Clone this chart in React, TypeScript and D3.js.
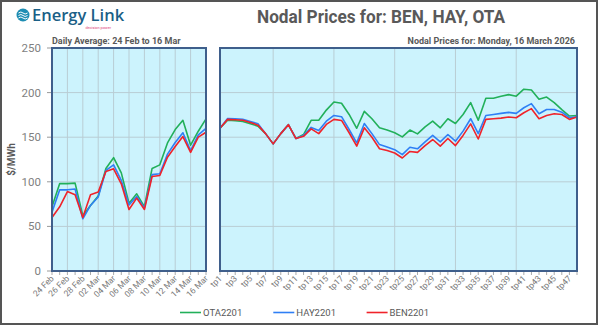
import React from "react";
import * as d3 from "d3";

const dailyLabels = ["24 Feb","25 Feb","26 Feb","27 Feb","28 Feb","01 Mar","02 Mar","03 Mar","04 Mar","05 Mar","06 Mar","07 Mar","08 Mar","09 Mar","10 Mar","11 Mar","12 Mar","13 Mar","14 Mar","15 Mar","16 Mar"];
const dailyOTA = [72,98,98,98.5,62,73.5,84,115,127,110,76,86.5,72,115,119,143.6,158.6,169,141,156.7,170.5];
const dailyHAY = [66,91,91,92,58.6,73.5,83,112.7,119,101.5,74,83.6,70.5,108,109,131,144,155,135,152.6,160];
const dailyBEN = [60,72,89,85.5,60,85.5,88.5,111.5,114.5,97.7,69,81.7,69,106,107,127.6,139.5,150.7,133,150,155.6];

const tpLabels = Array.from({ length: 48 }, (_, i) => `tp${i + 1}`);
const tpOTA = [160,169,168.4,167.7,165,162.4,154,142.5,154,164,148.5,153,169,169,180.4,189.5,188,175.5,160,179,170.7,160.5,158,155,150.4,158,153.7,161.6,168,160.5,170.7,165.4,175.5,188.7,169,193.6,193.6,196,197.7,196,203.8,203,192.5,195,188.7,181,173.7,174.4];
const tpHAY = [160,171,170.7,170,167.7,165,154,142.5,154,164,148.5,152,161,157.5,168,174.4,173,158.6,143.6,165.4,154,141.7,139,136,130.4,138.7,137,144.7,152,144.7,153,145.5,156.8,170.7,154,174.4,175.5,176.7,177.8,176.7,183,187.6,176.3,181,181,178,171.8,173];
const tpBEN = [160,170,169.5,169,166.5,163.5,154,142.5,154,164,148.5,151,159.4,154,164.3,170,168.8,155,140,160.5,150,137,135,132.3,126.7,134,133,140.6,147.4,140,148.5,140.6,152,165,148,170,170.7,171.4,172.6,171.8,177.4,182,170.7,174.4,176.3,175.5,170,172.6];

const yTicks = [0, 50, 100, 150, 200, 250];
const seriesNames = ["OTA2201", "HAY2201", "BEN2201"];
const seriesColors = ["#22b05a", "#2f7ff5", "#f0232a"];

const FONT = "Roboto, 'Open Sans', sans-serif";

export default function App() {
  const W = 600, H = 326;
  const top = 48, bottom = 271;
  const y = d3.scaleLinear().domain([0, 250]).range([bottom, top]);
  const xL = d3.scaleLinear().domain([0, dailyLabels.length - 1]).range([52, 206]);
  const xR = d3.scaleLinear().domain([0, tpLabels.length - 1]).range([220, 577]);

  const lineL = d3.line<number>().x((_, i) => xL(i)).y((d) => y(d));
  const lineR = d3.line<number>().x((_, i) => xR(i)).y((d) => y(d));

  const leftSeries = [dailyOTA, dailyHAY, dailyBEN];
  const rightSeries = [tpOTA, tpHAY, tpBEN];
  const gridV = "#b9cdd4";
  const frame = "#3f5f8c";

  const leftVGrid = dailyLabels.map((_, i) => i).filter((i) => i % 2 === 0 && i > 0 && i < dailyLabels.length - 1);
  const rightVGrid = [7, 15, 23, 31, 39];

  return (
    <svg width={W} height={H} style={{ position: "absolute", left: 0, top: 0, display: "block" }} fontFamily={FONT}>
      <rect x={0} y={0} width={W} height={H} fill="#fff" />
      <rect x={1} y={1} width={596} height={323} fill="none" stroke="#555" strokeWidth={2} />

      {/* logo */}
      <g>
        <circle cx={23} cy={15} r={6.5} fill="#1d8db3" />
        <path d="M18.5,13 q2.5,-2 4.5,0 t4.5,0 M18.5,15.5 q2.5,-2 4.5,0 t4.5,0 M18.5,18 q2.5,-2 4.5,0 t4.5,0" stroke="#fff" strokeWidth={1} fill="none" />
        <text x={32} y={20.5} fontSize={16.5} fill="#1b5f86" fontFamily="'Open Sans', sans-serif" fontWeight={600}>Energy Link</text>
        <text x={111} y={28.5} fontSize={3.8} fill="#e0407a" textAnchor="end">decision power</text>
      </g>

      <text x={381} y={23} fontSize={18.5} fontWeight={700} fill="#595959" textAnchor="middle" textLength={248} lengthAdjust="spacingAndGlyphs">Nodal Prices for: BEN, HAY, OTA</text>
      <text x={52} y={44} fontSize={9} fontWeight={700} fill="#595959">Daily Average: 24 Feb to 16 Mar</text>
      <text x={575} y={44} fontSize={9} fontWeight={700} fill="#595959" textAnchor="end">Nodal Prices for: Monday, 16 March 2026</text>

      {/* panels */}
      {[{ x0: 52, x1: 206 }, { x0: 220, x1: 577 }].map((p, k) => (
        <rect key={k} x={p.x0} y={top} width={p.x1 - p.x0} height={bottom - top} fill="#ccf3fd" />
      ))}

      {/* horizontal grid */}
      {yTicks.slice(1, -1).map((t) => (
        <g key={t}>
          <line x1={52} x2={206} y1={y(t)} y2={y(t)} stroke={gridV} strokeWidth={1} />
          <line x1={220} x2={577} y1={y(t)} y2={y(t)} stroke={gridV} strokeWidth={1} />
        </g>
      ))}
      {leftVGrid.map((i) => (
        <line key={i} x1={xL(i)} x2={xL(i)} y1={top} y2={bottom} stroke={gridV} strokeWidth={1} />
      ))}
      {rightVGrid.map((i) => (
        <line key={i} x1={xR(i)} x2={xR(i)} y1={top} y2={bottom} stroke={gridV} strokeWidth={1} />
      ))}

      {/* y axis labels */}
      {yTicks.map((t) => (
        <g key={t}>
          <text x={41} y={y(t) + 4} fontSize={11.5} fill="#7f7f7f" textAnchor="end">{t}</text>
          <line x1={47} x2={52} y1={y(t)} y2={y(t)} stroke="#999" />
        </g>
      ))}
      <text transform={`translate(15,${(top + bottom) / 2}) rotate(-90)`} fontSize={10} fontWeight={700} fill="#595959" textAnchor="middle">$/MWh</text>

      {/* lines */}
      {leftSeries.map((s, k) => (
        <path key={k} d={lineL(s) || ""} fill="none" stroke={seriesColors[k]} strokeWidth={1.6} strokeLinejoin="round" />
      ))}
      {rightSeries.map((s, k) => (
        <path key={k} d={lineR(s) || ""} fill="none" stroke={seriesColors[k]} strokeWidth={1.6} strokeLinejoin="round" />
      ))}

      {/* frames */}
      <rect x={52} y={top} width={206 - 52} height={bottom - top} fill="none" stroke={frame} strokeWidth={2} />
      <rect x={220} y={top} width={577 - 220} height={bottom - top} fill="none" stroke={frame} strokeWidth={2} />

      {/* x ticks */}
      {dailyLabels.map((l, i) => (
        <g key={l}>
          <line x1={xL(i)} x2={xL(i)} y1={bottom + 1} y2={bottom + 4} stroke="#aaa" />
          {i % 2 === 0 && (
            <text transform={`translate(${xL(i) + 2.5},${bottom + 8}) rotate(-45)`} fontSize={8.5} fill="#7a7a7a" textAnchor="end">{l}</text>
          )}
        </g>
      ))}
      {tpLabels.map((l, i) => (
        <g key={l}>
          <line x1={xR(i)} x2={xR(i)} y1={bottom + 1} y2={bottom + 4} stroke="#aaa" />
          {i % 2 === 0 && (
            <text transform={`translate(${xR(i) + 2.5},${bottom + 8}) rotate(-45)`} fontSize={8.5} fill="#7a7a7a" textAnchor="end">{l}</text>
          )}
        </g>
      ))}

      {/* legend */}
      {seriesNames.map((n, k) => {
        const lx = 180 + k * 93.3;
        return (
          <g key={n}>
            <line x1={lx} x2={lx + 21} y1={312.5} y2={312.5} stroke={seriesColors[k]} strokeWidth={1.6} />
            <text x={lx + 23} y={316} fontSize={9.5} fill="#595959">{n}</text>
          </g>
        );
      })}
    </svg>
  );
}
